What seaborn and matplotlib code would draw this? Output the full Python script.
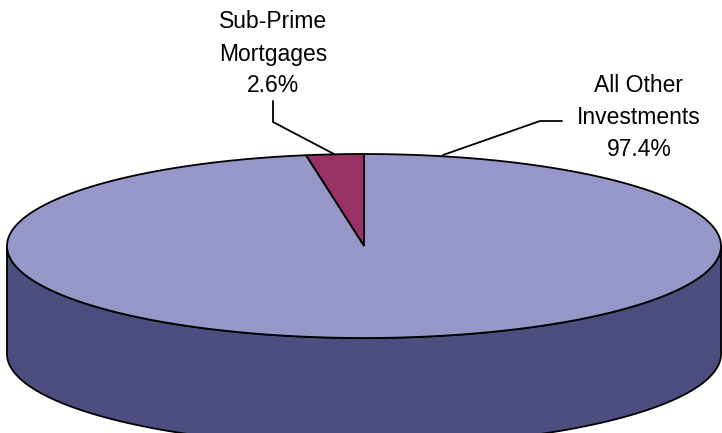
import numpy as np
import seaborn as sns
import matplotlib
matplotlib.use("Agg")
import matplotlib.pyplot as plt

# DATA
labels = ["Sub-Prime\nMortgages", "All Other\nInvestments"]
shares = [2.6, 97.4]
top_colors = ["#993366", "#9696C8"]
side_colors = ["#6B2447", "#4D4D80"]

sns.set_style("white")
plt.rcParams['font.family'] = ['Liberation Sans', 'DejaVu Sans']

# pie geometry (pixel space)
cx, cy = 364, 246
a, b = 357, 92
depth = 108

fig = plt.figure(figsize=(7.22, 4.33), dpi=100)
ax = fig.add_axes([0, 0, 1, 1])
ax.set_xlim(0, 722)
ax.set_ylim(433, 0)
ax.axis("off")


def pt(theta_deg, dy=0):
    t = np.radians(theta_deg)
    return cx + a * np.cos(t), cy - b * np.sin(t) + dy


# slice angles, starting at 12 o'clock, going counter-clockwise
angles = []
start = 90.0
for s in shares:
    end = start + s * 3.6
    angles.append((start, end))
    start = end

# side wall (front half only)
for (t0, t1), col in zip(angles, side_colors):
    lo, hi = max(t0, 180), min(t1, 360)
    if hi <= lo:
        continue
    th = np.linspace(lo, hi, 200)
    xs_top, ys_top = pt(th)
    xs_bot, ys_bot = pt(th[::-1], depth)
    xs = np.concatenate([xs_top, xs_bot])
    ys = np.concatenate([ys_top, ys_bot])
    ax.fill(xs, ys, color=col, ec="black", lw=1.3, zorder=1)

# top faces
for (t0, t1), col in zip(angles, top_colors):
    th = np.linspace(t0, t1, 300)
    xs, ys = pt(th)
    xs = np.concatenate([[cx], xs])
    ys = np.concatenate([[cy], ys])
    ax.fill(xs, ys, color=col, ec="black", lw=1.3, zorder=2)

# labels with leader lines
ax.text(273, 54, f"{labels[0]}\n{shares[0]:.1f}%", ha="center", va="center",
        fontsize=16.5, linespacing=1.5, color="black")
ax.plot([273, 273, 334], [101, 122, 154], color="black", lw=1.3, zorder=3)

ax.text(639, 118, f"{labels[1]}\n{shares[1]:.1f}%", ha="center", va="center",
        fontsize=16.5, linespacing=1.5, color="black")
ax.plot([443, 540, 562], [155, 121, 121], color="black", lw=1.3, zorder=3)

fig.savefig("out.png", dpi=100)
